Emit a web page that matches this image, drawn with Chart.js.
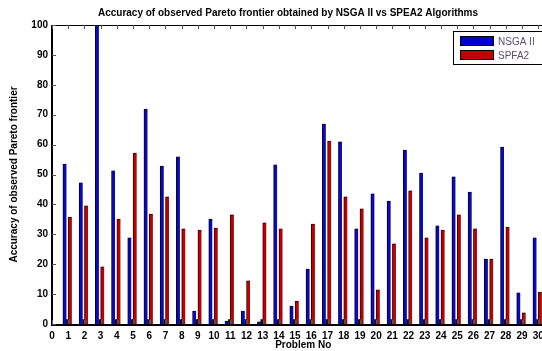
<!DOCTYPE html>
<html>
<head>
<meta charset="utf-8">
<script src="https://cdn.jsdelivr.net/npm/chart.js@4.4.1/dist/chart.umd.min.js"></script>
<style>
  html, body { margin: 0; padding: 0; background: #fff; overflow: hidden; }
  #wrap { position: relative; width: 566px; height: 351px; }
</style>
</head>
<body>
<div id="wrap"><canvas id="paretoChart"></canvas></div>
<script>
// Problem numbers and accuracy per algorithm
const problems = [1, 2, 3, 4, 5, 6, 7, 8, 9, 10, 11, 12, 13, 14, 15, 16, 17, 18, 19, 20, 21, 22, 23, 24, 25, 26, 27, 28, 29, 30];
const nsgaValues = [53.5, 47.2, 100, 51.2, 28.8, 71.9, 52.8, 55.9, 4.3, 35.1, 1.0, 4.3, 0.7, 53.2, 6.0, 18.4, 66.9, 60.9, 31.8, 43.5, 41.1, 58.2, 50.5, 32.8, 49.2, 44.1, 21.7, 59.2, 10.4, 28.8];
const speaValues = [35.8, 39.5, 19.1, 35.1, 57.2, 36.8, 42.5, 31.8, 31.4, 32.1, 36.5, 14.4, 33.8, 31.8, 7.7, 33.4, 61.2, 42.5, 38.5, 11.4, 26.8, 44.5, 28.8, 31.4, 36.5, 31.8, 21.7, 32.4, 3.7, 10.7];
// small dark stub drawn between each pair of bars
const stubValues = [1.5, 1.5, 1.5, 1.5, 1.5, 1.5, 1.5, 1.5, 1.5, 1.5, 1.5, 1.5, 1.5, 1.5, 1.5, 1.5, 1.5, 1.5, 1.5, 1.5, 1.5, 1.5, 1.5, 1.5, 1.5, 1.5, 1.5, 1.5, 1.5, 1.5];
const xTicks = [0, 1, 2, 3, 4, 5, 6, 7, 8, 9, 10, 11, 12, 13, 14, 15, 16, 17, 18, 19, 20, 21, 22, 23, 24, 25, 26, 27, 28, 29, 30, 31];
const yTicks = [0, 10, 20, 30, 40, 50, 60, 70, 80, 90, 100];

const titleText = 'Accuracy of observed Pareto frontier obtained by NSGA II vs SPEA2 Algorithms';
const legendItems = [
    { label: 'NSGA II', color: '#0000d0' },
    { label: 'SPFA2', color: '#c00000' }
];

const fontFamily = 'Arial, "Liberation Sans", sans-serif';
const tickFont = { family: fontFamily, size: 10, weight: 'bold' };
const axisTitleFont = { family: fontFamily, size: 10, weight: 'bold' };

// pair each value with its problem number, nudged inside the group
function toPoints(values, shift) {
    return values.map((v, i) => ({ x: problems[i] + shift, y: v }));
}

// grey drop shadow to the right of the bars
const barShadow = {
    id: 'barShadow',
    beforeDatasetsDraw(chart) {
        const ctx = chart.ctx;
        ctx.save();
        ctx.shadowColor = 'rgba(90, 90, 90, 0.75)';
        ctx.shadowOffsetX = 1.5;
        ctx.shadowOffsetY = 0;
        ctx.shadowBlur = 0;
    },
    afterDatasetsDraw(chart) {
        chart.ctx.restore();
    }
};

// box frame, inward ticks, title and legend box
const frameAndLegend = {
    id: 'frameAndLegend',
    afterDraw(chart) {
        const ctx = chart.ctx;
        const area = chart.chartArea;
        const xs = chart.scales.x;
        const ys = chart.scales.y;
        ctx.save();

        // top and right border
        ctx.strokeStyle = '#000';
        ctx.lineWidth = 1;
        ctx.beginPath();
        ctx.moveTo(area.left, area.top + 0.5);
        ctx.lineTo(area.right, area.top + 0.5);
        ctx.lineTo(area.right - 0.5, area.bottom);
        ctx.stroke();

        // thick bottom and left axes
        ctx.lineWidth = 2;
        ctx.beginPath();
        ctx.moveTo(area.left, area.top);
        ctx.lineTo(area.left, area.bottom + 1);
        ctx.lineTo(area.right, area.bottom + 1);
        ctx.stroke();

        // inward x ticks at top and bottom
        ctx.lineWidth = 1;
        ctx.strokeStyle = '#555';
        xTicks.forEach(t => {
            const px = Math.round(xs.getPixelForValue(t)) + 0.5;
            ctx.beginPath();
            ctx.moveTo(px, area.top);
            ctx.lineTo(px, area.top + 4);
            ctx.moveTo(px, area.bottom);
            ctx.lineTo(px, area.bottom - 4);
            ctx.stroke();
        });
        yTicks.forEach(t => {
            const py = Math.round(ys.getPixelForValue(t)) + 0.5;
            ctx.beginPath();
            ctx.moveTo(area.left, py);
            ctx.lineTo(area.left + 4, py);
            ctx.stroke();
        });

        // title
        ctx.fillStyle = '#000';
        ctx.font = 'bold 10px ' + fontFamily;
        ctx.textAlign = 'center';
        ctx.textBaseline = 'middle';
        ctx.fillText(titleText, 288, 13);

        // legend box
        const bx = 453, by = 31, bw = 120, bh = 33;
        ctx.fillStyle = '#fff';
        ctx.fillRect(bx, by, bw, bh);
        ctx.strokeStyle = '#000';
        ctx.lineWidth = 1;
        ctx.strokeRect(bx + 0.5, by + 0.5, bw, bh);
        ctx.font = '10px ' + fontFamily;
        ctx.textAlign = 'left';
        legendItems.forEach((item, i) => {
            const sy = by + 5 + i * 14;
            ctx.fillStyle = item.color;
            ctx.fillRect(bx + 7, sy, 34, 10);
            ctx.strokeStyle = '#000';
            ctx.strokeRect(bx + 7.5, sy + 0.5, 33, 9);
            ctx.fillStyle = '#5a4a78';
            ctx.fillText(item.label, bx + 45, sy + 6);
        });
        ctx.restore();
    }
};

const ctx = document.getElementById('paretoChart').getContext('2d');

new Chart(ctx, {
    type: 'bar',
    data: {
        datasets: [
            {
                label: 'NSGA II',
                data: toPoints(nsgaValues, -0.22),
                backgroundColor: '#0a0ab8',
                borderColor: '#000030',
                borderWidth: { left: 1, right: 0, top: 1, bottom: 0 },
                borderSkipped: false,
                barThickness: 3.5
            },
            {
                label: 'stub',
                data: toPoints(stubValues, -0.06),
                backgroundColor: '#111',
                borderWidth: 0,
                barThickness: 2
            },
            {
                label: 'SPFA2',
                data: toPoints(speaValues, 0.11),
                backgroundColor: '#c00000',
                borderColor: '#300000',
                borderWidth: { left: 1, right: 0, top: 1, bottom: 0 },
                borderSkipped: false,
                barThickness: 3.5
            }
        ]
    },
    options: {
        responsive: true,
        maintainAspectRatio: false,
        animation: false,
        layout: { padding: { top: 25, right: 2, left: 0, bottom: 0 } },
        datasets: { bar: { grouped: false } },
        plugins: {
            legend: { display: false },
            tooltip: { enabled: false }
        },
        scales: {
            x: {
                type: 'linear',
                min: 0,
                max: 31,
                offset: false,
                grid: { display: false, drawTicks: false },
                border: { display: false },
                afterFit(scale) { scale.height = 27; },
                afterBuildTicks(scale) { scale.ticks = xTicks.map(v => ({ value: v })); },
                ticks: {
                    color: '#000',
                    font: tickFont,
                    padding: 6,
                    maxRotation: 0,
                    autoSkip: false
                },
                title: {
                    display: true,
                    text: 'Problem No',
                    color: '#000',
                    font: axisTitleFont,
                    padding: { top: 0, bottom: 0 }
                }
            },
            y: {
                min: 0,
                max: 100,
                grid: { display: false, drawTicks: false },
                border: { display: false },
                afterFit(scale) { scale.width = 52; },
                afterBuildTicks(scale) { scale.ticks = yTicks.map(v => ({ value: v })); },
                ticks: {
                    color: '#000',
                    font: tickFont,
                    padding: 4
                },
                title: {
                    display: true,
                    text: 'Accuracy of observed Pareto frontier',
                    color: '#000',
                    font: axisTitleFont,
                    padding: { top: 8, bottom: 0 }
                }
            }
        }
    },
    plugins: [barShadow, frameAndLegend]
});
</script>
</body>
</html>
